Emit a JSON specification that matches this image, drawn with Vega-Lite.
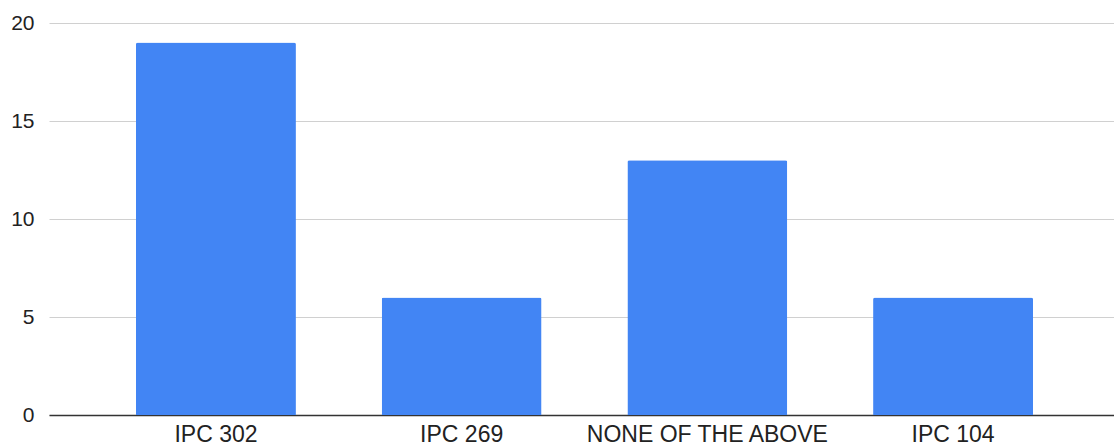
{
  "$schema": "https://vega.github.io/schema/vega-lite/v6.json",
  "autosize": "none",
  "width": 1071,
  "height": 392,
  "padding": {"left": 49, "top": 23, "right": 0, "bottom": 33},
  "background": "white",
  "data": {
    "values": [
      {"option": "IPC 302", "count": 19},
      {"option": "IPC 269", "count": 6},
      {"option": "NONE OF THE ABOVE", "count": 13},
      {"option": "IPC 104", "count": 6}
    ]
  },
  "mark": {"type": "bar", "color": "#4285F4", "cornerRadiusTopLeft": 2, "cornerRadiusTopRight": 2},
  "encoding": {
    "x": {
      "field": "option",
      "type": "nominal",
      "sort": null,
      "scale": {"paddingInner": 0.349, "paddingOuter": 0.354},
      "axis": {
        "title": null,
        "labelAngle": 0,
        "labelLimit": 0,
        "labelFont": "Liberation Sans",
        "labelFontSize": 23,
        "labelColor": "#222222",
        "labelPadding": 8,
        "ticks": false,
        "domainColor": "#333333",
        "domainWidth": 1.5
      }
    },
    "y": {
      "field": "count",
      "type": "quantitative",
      "scale": {"domain": [0, 20], "nice": false},
      "axis": {
        "title": null,
        "values": [0, 5, 10, 15, 20],
        "labelFont": "Liberation Sans",
        "labelFontSize": 21,
        "labelColor": "#222222",
        "labelPadding": 15,
        "ticks": false,
        "domain": false,
        "gridColor": "#d0d0d0",
        "gridWidth": 1
      }
    }
  },
  "config": {"view": {"stroke": null}}
}
